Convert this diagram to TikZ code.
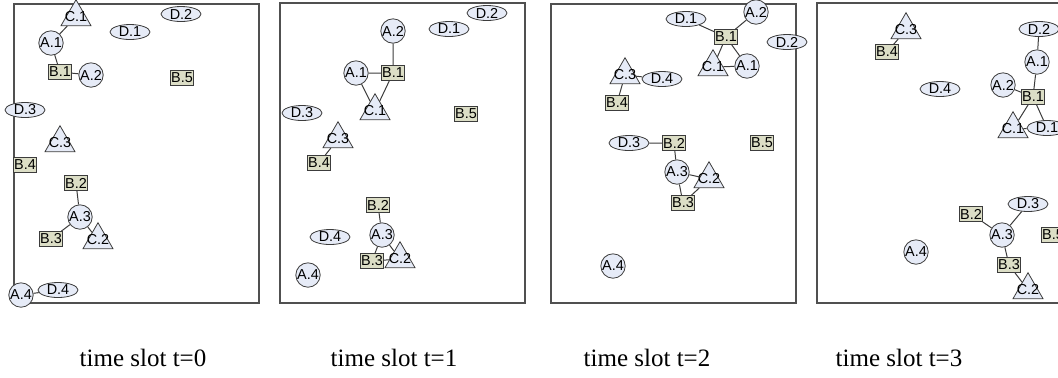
\documentclass[tikz,border=0pt]{standalone}
\usepackage{fontspec}
\setmainfont{Liberation Serif}
\newfontfamily\labelfont{Liberation Sans}
\usetikzlibrary{shapes.geometric}
\definecolor{nodefill}{HTML}{E6EBF7}
\definecolor{boxfill}{HTML}{DCDEC6}
\definecolor{linegray}{HTML}{3C3C3C}
\definecolor{framegray}{HTML}{505050}
\begin{document}
\begin{tikzpicture}[x=0.5pt,y=-0.5pt,
    every node/.style={font=\labelfont\fontsize{7.2}{8}\selectfont},
    nodeA/.style={circle, draw=linegray, fill=nodefill, minimum size=12.2pt, inner sep=0pt},
    nodeB/.style={rectangle, draw=linegray, fill=boxfill, minimum width=11pt, minimum height=7.5pt, inner sep=0.3pt},
    nodeC/.style={regular polygon, regular polygon sides=3, draw=linegray, fill=nodefill, minimum size=17.3pt, inner sep=0pt},
    nodeD/.style={ellipse, draw=linegray, fill=nodefill, minimum width=20pt, minimum height=7.5pt, inner sep=0pt},
    link/.style={draw=linegray, line width=0.5pt},
    frame/.style={draw=framegray, line width=0.6pt},
    caption/.style={font=\rmfamily\fontsize{12.5}{14}\selectfont, anchor=base}]
    \useasboundingbox (0,0) rectangle (1058,377);

    \draw [frame] (14,4) rectangle (259,303);
    \draw [frame] (280,3) rectangle (525,303);
    \draw [frame] (551,4) rectangle (796,303);
    \draw [frame] (817,3) rectangle (1062,303);

% t=0
\begin{scope}
    \node [nodeC] (c1t0) at (76,17) {\makebox[0pt]{C.1}};
    \node [nodeA] (a1t0) at (51,43) {A.1};
    \node [nodeD] (d1t0) at (130,32) {D.1};
    \node [nodeD] (d2t0) at (181,14) {D.2};
    \node [nodeB] (b1t0) at (60,72) {B.1};
    \node [nodeA] (a2t0) at (91,75) {A.2};
    \node [nodeB] (b5t0) at (182,78) {B.5};
    \node [nodeD] (d3t0) at (25,110) {D.3};
    \node [nodeC] (c3t0) at (60,143) {\makebox[0pt]{C.3}};
    \node [nodeB] (b4t0) at (25,165) {B.4};
    \node [nodeB] (b2t0) at (76,183) {B.2};
    \node [nodeA] (a3t0) at (80,217) {A.3};
    \node [nodeB] (b3t0) at (51,239) {B.3};
    \node [nodeC] (c2t0) at (98,240) {\makebox[0pt]{C.2}};
    \node [nodeA] (a4t0) at (21,295) {A.4};
    \node [nodeD] (d4t0) at (58,290) {D.4};
    \draw [link] (c1t0) -- (a1t0) (a1t0) -- (b1t0) (b1t0) -- (a2t0)
      (b2t0) -- (a3t0) (a3t0) -- (b3t0) (a3t0) -- (c2t0) (a4t0) -- (d4t0);
\end{scope}

% t=1
\begin{scope}
    \node [nodeA] (a2t1) at (393,31) {A.2};
    \node [nodeD] (d1t1) at (449,29) {D.1};
    \node [nodeD] (d2t1) at (487,13) {D.2};
    \node [nodeA] (a1t1) at (356,73) {A.1};
    \node [nodeB] (b1t1) at (393,73) {B.1};
    \node [nodeC] (c1t1) at (375,111) {\makebox[0pt]{C.1}};
    \node [nodeD] (d3t1) at (302,113) {D.3};
    \node [nodeB] (b5t1) at (466,114) {B.5};
    \node [nodeC] (c3t1) at (338,139) {\makebox[0pt]{C.3}};
    \node [nodeB] (b4t1) at (319,163) {B.4};
    \node [nodeB] (b2t1) at (378,205) {B.2};
    \node [nodeD] (d4t1) at (330,237) {D.4};
    \node [nodeA] (a3t1) at (382,235) {A.3};
    \node [nodeB] (b3t1) at (372,261) {B.3};
    \node [nodeC] (c2t1) at (400,259) {\makebox[0pt]{C.2}};
    \node [nodeA] (a4t1) at (308,275) {A.4};
    \draw [link] (a2t1) -- (b1t1) (a1t1) -- (b1t1) (a1t1) -- (c1t1) (b1t1) -- (c1t1)
      (c3t1) -- (b4t1) (b2t1) -- (a3t1) (a3t1) -- (b3t1) (a3t1) -- (c2t1) (b3t1) -- (c2t1);
\end{scope}

% t=2
\begin{scope}
    \node [nodeA] (a2t2) at (756,12) {A.2};
    \node [nodeD] (d1t2) at (686,19) {D.1};
    \node [nodeB] (b1t2) at (726,37) {B.1};
    \node [nodeD] (d2t2) at (787,42) {D.2};
    \node [nodeC] (c1t2) at (713,67) {\makebox[0pt]{C.1}};
    \node [nodeA] (a1t2) at (747,66) {A.1};
    \node [nodeC] (c3t2) at (625,75) {\makebox[0pt]{C.3}};
    \node [nodeD] (d4t2) at (662,79) {D.4};
    \node [nodeB] (b4t2) at (617,103) {B.4};
    \node [nodeD] (d3t2) at (629,143) {D.3};
    \node [nodeB] (b2t2) at (674,143) {B.2};
    \node [nodeB] (b5t2) at (762,143) {B.5};
    \node [nodeA] (a3t2) at (677,172) {A.3};
    \node [nodeC] (c2t2) at (709,179) {\makebox[0pt]{C.2}};
    \node [nodeB] (b3t2) at (683,203) {B.3};
    \node [nodeA] (a4t2) at (613,266) {A.4};
    \draw [link] (d1t2) -- (b1t2) (b1t2) -- (a2t2) (b1t2) -- (c1t2) (b1t2) -- (a1t2) (c1t2) -- (a1t2)
      (c3t2) -- (d4t2) (c3t2) -- (b4t2) (d3t2) -- (b2t2) (b2t2) -- (a3t2)
      (a3t2) -- (c2t2) (a3t2) -- (b3t2) (c2t2) -- (b3t2);
\end{scope}

% t=3
\begin{scope}
    \node [nodeC] (c3t3) at (906,30) {\makebox[0pt]{C.3}};
    \node [nodeB] (b4t3) at (887,52) {B.4};
    \node [nodeD] (d2t3) at (1039,29) {D.2};
    \node [nodeA] (a1t3) at (1037,62) {A.1};
    \node [nodeD] (d4t3) at (940,89) {D.4};
    \node [nodeA] (a2t3) at (1003,85) {A.2};
    \node [nodeB] (b1t3) at (1033,97) {B.1};
    \node [nodeC] (c1t3) at (1013,129) {\makebox[0pt]{C.1}};
    \node [nodeD] (d1t3) at (1047,128) {D.1};
    \node [nodeD] (d3t3) at (1028,204) {D.3};
    \node [nodeB] (b2t3) at (971,214) {B.2};
    \node [nodeA] (a3t3) at (1002,235) {A.3};
    \node [nodeB] (b5t3) at (1053,235) {B.5};
    \node [nodeA] (a4t3) at (916,252) {A.4};
    \node [nodeB] (b3t3) at (1009,265) {B.3};
    \node [nodeC] (c2t3) at (1028,290) {\makebox[0pt]{C.2}};
    \draw [link] (c3t3) -- (b4t3) (d2t3) -- (a1t3) (a1t3) -- (b1t3) (a2t3) -- (b1t3)
      (b1t3) -- (c1t3) (b1t3) -- (d1t3) (c1t3) -- (d1t3)
      (d3t3) -- (a3t3) (b2t3) -- (a3t3) (a3t3) -- (b3t3) (b3t3) -- (c2t3);
\end{scope}

    \node [caption] (cap0) at (143,366) {time slot t=0};
    \node [caption] (cap1) at (394,366) {time slot t=1};
    \node [caption] (cap2) at (647,366) {time slot t=2};
    \node [caption] (cap3) at (899,366) {time slot t=3};
\end{tikzpicture}
\end{document}
